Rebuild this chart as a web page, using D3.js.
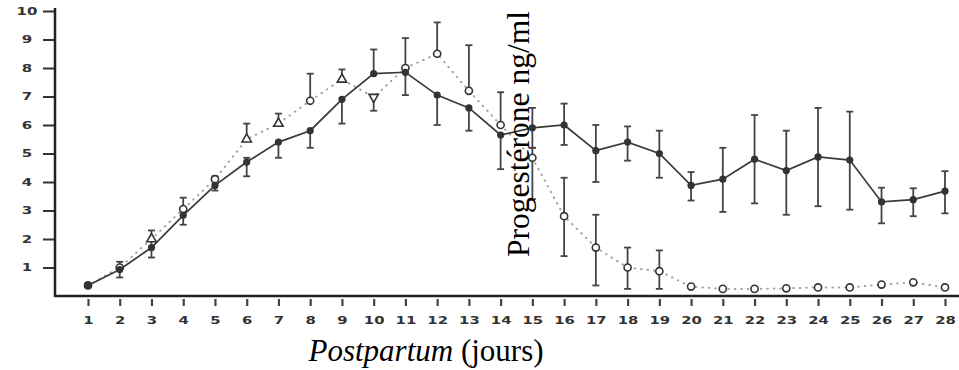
<!DOCTYPE html>
<html>
<head>
<meta charset="utf-8">
<script src="https://cdn.jsdelivr.net/npm/d3@7/dist/d3.min.js"></script>
<style>
  body { margin: 0; background: #fff; }
  svg { display: block; }
</style>
</head>
<body>
<div id="chart"></div>
<script>
// days postpartum
const days = [1, 2, 3, 4, 5, 6, 7, 8, 9, 10, 11, 12, 13, 14, 15, 16, 17, 18, 19, 20, 21, 22, 23, 24, 25, 26, 27, 28];
const yTicks = [1, 2, 3, 4, 5, 6, 7, 8, 9, 10];

// solid series (filled markers)
const solidMean = [0.37, 0.93, 1.7, 2.83, 3.88, 4.7, 5.4, 5.8, 6.9, 7.8, 7.85, 7.05, 6.6, 5.65, 5.9, 6.0, 5.1, 5.4, 5.0, 3.88, 4.1, 4.8, 4.4, 4.88, 4.77, 3.3, 3.38, 3.68];
const solidLow  = [0.3, 0.65, 1.35, 2.5, 3.7, 4.2, 4.85, 5.2, 6.05, 7.8, 7.05, 6.0, 5.8, 4.45, 5.2, 5.3, 4.0, 4.75, 4.15, 3.35, 2.95, 3.25, 2.85, 3.15, 3.03, 2.55, 2.8, 2.9];
const solidHigh = [0.45, 1.2, 2.3, 3.45, 4.2, 4.85, 5.4, 5.8, 6.9, 8.65, 9.05, 7.05, 6.6, 5.65, 6.6, 6.75, 6.0, 5.95, 5.8, 4.35, 5.2, 6.35, 5.8, 6.6, 6.47, 3.8, 3.78, 4.38];

// dotted series (open markers)
const dottedMean = [0.37, 1.0, 2.0, 3.05, 4.1, 5.5, 6.05, 6.85, 7.6, 6.98, 8.0, 8.5, 7.2, 6.0, 4.85, 2.8, 1.7, 1.0, 0.87, 0.33, 0.25, 0.25, 0.27, 0.3, 0.3, 0.4, 0.48, 0.3];
const dottedLow  = [0.37, 1.0, 2.0, 3.05, 4.1, 5.5, 6.05, 6.85, 7.6, 6.5, 8.0, 8.5, 7.2, 6.0, 3.4, 1.4, 0.37, 0.25, 0.25, 0.33, 0.25, 0.25, 0.27, 0.3, 0.3, 0.4, 0.48, 0.3];
const dottedHigh = [0.37, 1.0, 2.0, 3.05, 4.1, 6.05, 6.4, 7.8, 7.95, 6.98, 8.0, 9.6, 8.8, 7.15, 5.2, 4.15, 2.85, 1.7, 1.6, 0.33, 0.25, 0.25, 0.27, 0.3, 0.3, 0.4, 0.48, 0.3];
const dottedShape = ['o', 'o', '^', 'o', 'o', '^', '^', 'o', '^', 'v', 'o', 'o', 'o', 'o', 'o', 'o', 'o', 'o', 'o', 'o', 'o', 'o', 'o', 'o', 'o', 'o', 'o', 'o'];

const width = 959, height = 370;

const svg = d3.select('#chart').append('svg')
  .attr('width', width)
  .attr('height', height);

svg.append('rect').attr('width', width).attr('height', height).attr('fill', '#fff');

const x = d3.scaleLinear().domain([1, 28]).range([88, 945]);
const y = d3.scaleLinear().domain([0, 10]).range([296, 11]);

const solid = days.map((d, i) => ({ day: d, v: solidMean[i], lo: solidLow[i], hi: solidHigh[i] }));
const dotted = days.map((d, i) => ({ day: d, v: dottedMean[i], lo: dottedLow[i], hi: dottedHigh[i], shape: dottedShape[i] }));

// axes
const xAxis = svg.append('g')
  .attr('transform', 'translate(0,' + y(0) + ')')
  .call(d3.axisBottom(x).tickValues(days).tickSize(10).tickPadding(10).tickFormat(d3.format('d')));
xAxis.select('.domain').remove();
xAxis.selectAll('.tick line').attr('stroke', '#444').attr('stroke-width', 2.2).attr('y1', 3);
xAxis.selectAll('.tick text')
  .attr('font-family', 'DejaVu Sans, sans-serif')
  .attr('font-weight', 'bold')
  .attr('font-size', 11)
  .attr('fill', '#333')
  .attr('transform', 'scale(1.35,1)');

svg.append('line')
  .attr('x1', 55).attr('x2', width)
  .attr('y1', y(0)).attr('y2', y(0))
  .attr('stroke', '#222').attr('stroke-width', 2.5);

const yAxis = svg.append('g')
  .attr('transform', 'translate(55,0)')
  .call(d3.axisLeft(y).tickValues(yTicks).tickSize(12).tickFormat(d3.format('d')));
yAxis.select('.domain').remove();
yAxis.selectAll('.tick line').attr('stroke', '#333').attr('stroke-width', 2);
yAxis.selectAll('.tick text')
  .attr('x', 0)
  .attr('text-anchor', 'middle')
  .attr('font-family', 'DejaVu Sans, sans-serif')
  .attr('font-weight', 'bold')
  .attr('font-size', 10)
  .attr('fill', '#333')
  .attr('transform', 'translate(-28,0) scale(1.5,1)');

svg.append('line')
  .attr('x1', 55).attr('x2', 55)
  .attr('y1', y(10) - 3).attr('y2', y(0) + 1)
  .attr('stroke', '#222').attr('stroke-width', 2.5);

// lines
const line = d3.line().x(d => x(d.day)).y(d => y(d.v));

svg.append('path')
  .datum(dotted)
  .attr('d', line)
  .attr('fill', 'none')
  .attr('stroke', '#a0a0a0')
  .attr('stroke-width', 2)
  .attr('stroke-linecap', 'round')
  .attr('stroke-dasharray', '0.5,6');

svg.append('path')
  .datum(solid)
  .attr('d', line)
  .attr('fill', 'none')
  .attr('stroke', '#3a3a3a')
  .attr('stroke-width', 1.7);

// error bars
function errorBars(data) {
  const bars = data.filter(d => d.hi > d.lo);
  const g = svg.append('g').attr('stroke', '#444').attr('stroke-width', 1.8);
  g.selectAll('.bar').data(bars).enter().append('line')
    .attr('x1', d => x(d.day)).attr('x2', d => x(d.day))
    .attr('y1', d => y(d.hi)).attr('y2', d => y(d.lo));
  g.selectAll('.capHi').data(bars.filter(d => d.hi > d.v)).enter().append('line')
    .attr('x1', d => x(d.day) - 3.5).attr('x2', d => x(d.day) + 3.5)
    .attr('y1', d => y(d.hi)).attr('y2', d => y(d.hi));
  g.selectAll('.capLo').data(bars.filter(d => d.lo < d.v)).enter().append('line')
    .attr('x1', d => x(d.day) - 3.5).attr('x2', d => x(d.day) + 3.5)
    .attr('y1', d => y(d.lo)).attr('y2', d => y(d.lo));
}
errorBars(solid);
errorBars(dotted);

// markers
const tri = d3.symbol().type(d3.symbolTriangle).size(38);
svg.selectAll('.dmark').data(dotted).enter().append('path')
  .attr('d', d => d.shape === 'o' ? d3.symbol().type(d3.symbolCircle).size(40)() : tri())
  .attr('transform', d => 'translate(' + x(d.day) + ',' + y(d.v) + ')' + (d.shape === 'v' ? ' rotate(180)' : ''))
  .attr('fill', '#fff')
  .attr('stroke', '#333')
  .attr('stroke-width', 1.6);

svg.selectAll('.smark').data(solid).enter().append('circle')
  .attr('cx', d => x(d.day))
  .attr('cy', d => y(d.v))
  .attr('r', 3.6)
  .attr('fill', '#333');

// titles
svg.append('text')
  .attr('transform', 'translate(529,134) rotate(-90)')
  .attr('text-anchor', 'middle')
  .attr('font-family', 'Liberation Serif, Times New Roman, serif')
  .attr('font-size', 31.5)
  .attr('fill', '#000')
  .text('Progestérone ng/ml');

const xt = svg.append('text')
  .attr('x', 426)
  .attr('y', 361)
  .attr('text-anchor', 'middle')
  .attr('font-family', 'Liberation Serif, Times New Roman, serif')
  .attr('font-size', 31)
  .attr('fill', '#000');
xt.append('tspan').attr('font-style', 'italic').text('Postpartum');
xt.append('tspan').text(' (jours)');
</script>
</body>
</html>
